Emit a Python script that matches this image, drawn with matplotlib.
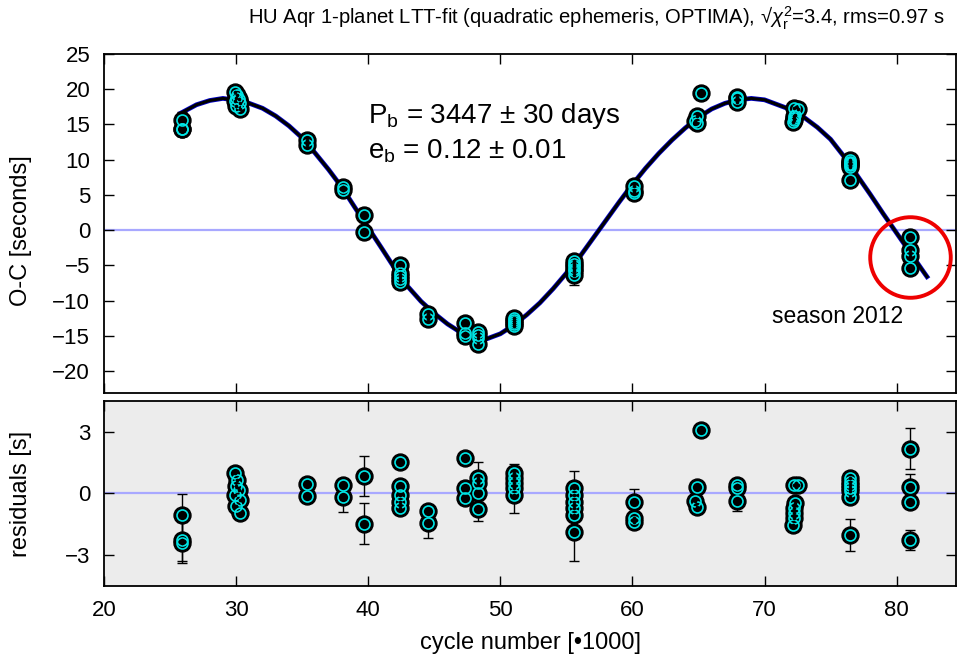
import matplotlib
matplotlib.use("Agg")
import matplotlib.pyplot as plt
from matplotlib.axes import Axes
from matplotlib.figure import Figure

ax1: Axes
ax2: Axes
fig: Figure

plt.rcParams['font.family'] = ['Liberation Sans', 'DejaVu Sans']
plt.rcParams['mathtext.fontset'] = 'custom'
plt.rcParams['mathtext.rm'] = 'Liberation Sans'
plt.rcParams['mathtext.it'] = 'Liberation Sans:italic'

# LTT fit curve (cycle number / 1000, O-C in s)
fit_cycle = [25.8, 26, 27, 28, 29, 30, 31, 32, 33, 34, 35, 36, 37, 38, 39, 40,
             41, 42, 43, 44, 45, 46, 47, 48, 49, 50, 51, 52, 53, 54, 55, 56,
             57, 58, 59, 60, 61, 62, 63, 64, 65, 66, 67, 68, 69, 70, 71, 72,
             73, 74, 75, 76, 77, 78, 79, 80, 81, 82, 82.3]
fit_oc = [16.6, 16.8, 17.8, 18.4, 18.7, 18.45, 18.0, 17.3, 16.2, 14.8, 13.1,
          10.9, 8.6, 6.1, 3.2, 0.35, -2.5, -5.4, -8.0, -10.1, -11.8, -13.3,
          -14.5, -15.2, -15.4, -14.7, -13.5, -12.0, -10.3, -8.3, -6.1, -3.8,
          -1.2, 1.4, 4.0, 6.5, 8.8, 10.9, 12.8, 14.5, 16.0, 17.2, 18.0, 18.5,
          18.7, 18.5, 17.8, 17.1, 16.0, 14.6, 12.9, 10.5, 7.8, 5.1, 2.3, -0.4,
          -3.1, -5.8, -6.6]

# timing points
cycle = [25.9, 25.9, 25.9,
         29.95, 30.1, 30.0, 30.2, 29.95, 30.3, 30.0, 30.3,
         35.4, 35.4,
         38.1, 38.1,
         39.7, 39.7,
         42.4, 42.4, 42.4, 42.4, 42.4,
         44.5, 44.5,
         47.3, 47.3, 47.3,
         48.3, 48.3, 48.3, 48.3,
         51.0, 51.0, 51.0, 51.0, 51.0,
         55.6, 55.6, 55.6, 55.6, 55.6, 55.6,
         60.1, 60.1, 60.1,
         64.9, 64.75, 64.9, 65.2,
         67.9, 67.9, 67.9,
         72.2, 72.55, 72.3, 72.2, 72.25, 72.2, 72.15,
         76.5, 76.5, 76.5, 76.5, 76.5, 76.5, 76.45,
         81.0, 81.0, 81.0, 81.0]
oc = [15.7, 14.4, 14.3,
      19.6, 19.2, 18.8, 18.6, 18.3, 18.0, 17.6, 17.2,
      12.8, 12.1,
      6.2, 5.7,
      2.1, -0.3,
      -4.9, -6.1, -6.5, -6.9, -7.3,
      -11.9, -12.6,
      -13.1, -14.6, -15.0,
      -14.5, -14.8, -15.3, -16.1,
      -12.4, -12.8, -13.0, -13.3, -13.6,
      -4.3, -4.8, -5.1, -5.5, -5.8, -6.3,
      6.3, 5.5, 5.3,
      16.2, 15.5, 15.2, 19.4,
      18.9, 18.7, 18.2,
      17.3, 17.2, 16.4, 16.2, 15.9, 15.7, 15.3,
      9.9, 9.7, 9.6, 9.4, 9.3, 9.0, 7.1,
      -1.0, -2.8, -3.6, -5.4]
resid = [-1.04, -2.26, -2.39,
         0.99, 0.67, 0.35, 0.18, -0.07, -0.31, -0.63, -0.96,
         0.46, -0.11,
         0.39, -0.15,
         0.86, -1.48,
         1.53, 0.37, -0.07, -0.39, -0.72,
         -0.85, -1.45,
         1.72, 0.29, -0.2,
         0.75, 0.5, 0.02, -0.75,
         1.0, 0.75, 0.5, 0.25, -0.05,
         0.26, -0.07, -0.39, -0.72, -1.04, -1.86,
         -0.39, -1.21, -1.37,
         0.31, -0.36, -0.64, 3.1,
         0.39, 0.26, -0.36,
         0.42, 0.39, -0.47, -0.72, -0.96, -1.21, -1.53,
         0.75, 0.55, 0.42, 0.26, 0.1, -0.15, -2.02,
         2.17, 0.34, -0.42, -2.27]
err = [1.0, 1.0, 1.0,
       0.3, 0.3, 0.3, 0.3, 0.3, 0.3, 0.3, 0.3,
       0.3, 0.3,
       0.3, 0.73,
       0.98, 1.0,
       0.3, 0.3, 0.3, 0.3, 0.3,
       0.3, 0.73,
       0.3, 0.3, 0.3,
       0.78, 0.3, 0.3, 0.6,
       0.43, 0.3, 0.3, 0.3, 0.9,
       0.85, 0.3, 0.3, 0.3, 0.3, 1.42,
       0.6, 0.3, 0.3,
       0.3, 0.3, 0.3, 0.3,
       0.3, 0.3, 0.5,
       0.3, 0.3, 0.3, 0.3, 0.3, 0.3, 0.3,
       0.3, 0.3, 0.3, 0.3, 0.3, 0.3, 0.78,
       1.0, 0.62, 0.3, 0.47]

fig = plt.figure(figsize=(9.57, 6.65), dpi=100)
ax1 = fig.add_axes([0.1087, 0.4090, 0.8903, 0.5098])
ax2 = fig.add_axes([0.1087, 0.1188, 0.8903, 0.2782])


def draw_points(ax, y):
    ax.errorbar(cycle, y, yerr=err, fmt='none', ecolor='black', elinewidth=1,
                capsize=3.6, capthick=1, zorder=3)
    ax.plot(cycle, y, 'o', ms=12.2, color='black', mec='black', zorder=4)
    ax.plot(cycle, y, 'o', ms=7.9, mfc='none', mec='#00e5e5', mew=1.2, zorder=5)
    ax.plot(cycle, y, 'o', ms=1.6, color='black', zorder=6)


for ax in (ax1, ax2):
    ax.axhline(0, color='#a8a8ff', lw=1.6, zorder=1)
    ax.set_xlim(20, 84.5)
    ax.set_xticks([20, 30, 40, 50, 60, 70, 80])
    ax.tick_params(direction='in', length=7, width=1, top=True, right=True,
                   labelsize=16)
    ax.tick_params(axis='x', pad=10)
    ax.tick_params(axis='y', pad=10)
    for sp in ax.spines.values():
        sp.set_linewidth(1.3)

# upper panel
ax1.plot(fit_cycle, fit_oc, color='#0000c8', lw=3.4, zorder=2)
ax1.plot(fit_cycle, fit_oc, color='black', lw=2.2, zorder=2)
draw_points(ax1, oc)
ax1.plot([81.0], [-3.8], 'o', ms=58, mfc='none', mec='#ee0000', mew=2.8, zorder=7)
ax1.set_ylim(-23.1, 25)
ax1.set_yticks(range(-20, 30, 5))
ax1.tick_params(labelbottom=False)
ax1.set_ylabel('O-C [seconds]', fontsize=17)
ax1.yaxis.set_label_coords(-0.084, 0.48)
ax1.text(40.0, 16.2, r'P$_\mathrm{b}$ = 3447 $\pm$ 30 days', fontsize=20,
         va='center', ha='left')
ax1.text(40.0, 11.2, r'e$_\mathrm{b}$ = 0.12 $\pm$ 0.01', fontsize=20,
         va='center', ha='left')
ax1.text(70.6, -12.2, 'season 2012', fontsize=16.5, va='center', ha='left')

# residuals panel
ax2.set_facecolor('#ececec')
draw_points(ax2, resid)
ax2.set_ylim(-4.5, 4.5)
ax2.set_yticks([-3, 0, 3])
ax2.set_ylabel('residuals [s]', fontsize=17)
ax2.yaxis.set_label_coords(-0.084, 0.5)
ax2.set_xlabel('cycle number [•1000]', fontsize=17, labelpad=8)

fig.text(0.987, 0.972,
         r'HU Aqr 1-planet LTT-fit (quadratic ephemeris, OPTIMA), √$\chi_\mathrm{r}^2$=3.4, rms=0.97 s',
         ha='right', va='center', fontsize=14.6)

fig.savefig('out.png', dpi=100)
